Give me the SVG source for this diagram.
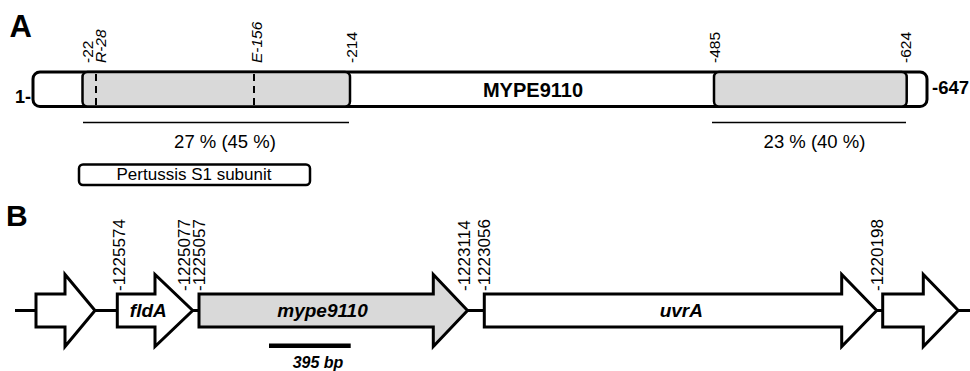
<svg xmlns="http://www.w3.org/2000/svg" width="970" height="371" viewBox="0 0 970 371">
<style>
text{font-family:"Liberation Sans",Arial,Helvetica,sans-serif;fill:#000}
.panel{font-size:31px;font-weight:bold}
.pos{font-size:15.5px}
.posi{font-size:15.5px;font-style:italic}
.gpos{font-size:17px}
.box{stroke:#000;stroke-width:3;fill:#fff}
.dom{stroke:#000;stroke-width:2.5;fill:#d9d9d9}
.gene{stroke:#000;stroke-width:3;fill:#fff;stroke-linejoin:miter}
.glab{font-size:19px;font-weight:bold;font-style:italic;text-anchor:middle}
.mid{text-anchor:middle}
.rule{stroke:#000;stroke-width:1.5}
.dash{stroke:#000;stroke-width:2;stroke-dasharray:7 5}
</style>

<!-- Panel A -->
<text class="panel" x="9.5" y="36.5">A</text>
<g id="protein">
  <rect class="box" x="33" y="72" width="894" height="34.5" rx="7"/>
  <text x="533" y="96.5" class="mid" style="font-size:20px;font-weight:bold">MYPE9110</text>
  <text x="15" y="102.5" style="font-size:18px;font-weight:bold">1-</text>
  <text x="932" y="94" style="font-size:18.5px;font-weight:bold">-647</text>
</g>
<g id="domain1">
  <rect class="dom" x="82.5" y="72" width="267.5" height="34.5" rx="5"/>
  <line class="dash" x1="96" y1="74" x2="96" y2="105"/>
  <line class="dash" x1="254" y1="74" x2="254" y2="105"/>
  <text class="pos" transform="translate(93,63) rotate(-90)">-22</text>
  <text class="posi" transform="translate(106,63) rotate(-90)">R-28</text>
  <text class="posi" transform="translate(261.5,63) rotate(-90)">E-156</text>
  <text class="pos" transform="translate(356.5,63) rotate(-90)">-214</text>
  <line class="rule" x1="83" y1="122.5" x2="349" y2="122.5"/>
  <text x="225" y="148.3" class="mid" style="font-size:18.5px">27 % (45 %)</text>
</g>
<g id="domain2">
  <rect class="dom" x="714" y="72" width="192.7" height="34.5" rx="5"/>
  <text class="pos" transform="translate(720,63) rotate(-90)">-485</text>
  <text class="pos" transform="translate(911,63) rotate(-90)">-624</text>
  <line class="rule" x1="712" y1="122.5" x2="906" y2="122.5"/>
  <text x="814.5" y="148.3" class="mid" style="font-size:18.5px">23 % (40 %)</text>
</g>
<g id="pertussis">
  <rect class="box" x="79" y="164.5" width="231" height="20.5" rx="4" style="stroke-width:2.5"/>
  <text x="194" y="180" class="mid" style="font-size:17px">Pertussis S1 subunit</text>
</g>

<!-- Panel B -->
<text class="panel" x="6" y="226" style="font-size:30px">B</text>
<g id="connectors">
  <line x1="15" y1="310.5" x2="970" y2="310.5" stroke="#000" stroke-width="3"/>
</g>
<g id="gene1">
  <polygon class="gene" points="36,294 65,294 65,274.5 95,310.5 65,346.5 65,327 36,327"/>
</g>
<g id="fldA">
  <polygon class="gene" points="117.3,294 155,294 155,274.5 192.7,310.5 155,346.5 155,327 117.3,327"/>
  <text class="glab" x="148.3" y="317">fldA</text>
</g>
<g id="mype9110">
  <polygon class="gene" style="fill:#d9d9d9" points="199,294 433.3,294 433.3,274.5 467.5,310.5 433.3,346.5 433.3,327 199,327"/>
  <text class="glab" x="322.5" y="317">mype9110</text>
</g>
<g id="uvrA">
  <polygon class="gene" points="484.3,294 841.7,294 841.7,274.5 876.7,310.5 841.7,346.5 841.7,327 484.3,327"/>
  <text class="glab" x="681.3" y="317">uvrA</text>
</g>
<g id="gene5">
  <polygon class="gene" points="882.7,294 923.3,294 923.3,274.5 958.3,310.5 923.3,346.5 923.3,327 882.7,327"/>
</g>
<g id="coords">
  <text class="gpos" transform="translate(124.5,291) rotate(-90)">-1225574</text>
  <text class="gpos" transform="translate(189.5,291) rotate(-90)">-1225077</text>
  <text class="gpos" transform="translate(204.5,291) rotate(-90)">-1225057</text>
  <text class="gpos" transform="translate(470,291) rotate(-90)">-1223114</text>
  <text class="gpos" transform="translate(490,291) rotate(-90)">-1223056</text>
  <text class="gpos" transform="translate(883.3,291) rotate(-90)">-1220198</text>
</g>
<g id="scalebar">
  <line x1="269" y1="345.7" x2="350.7" y2="345.7" stroke="#000" stroke-width="4.5"/>
  <text x="318" y="368.3" class="mid" style="font-size:16px;font-weight:bold;font-style:italic">395 bp</text>
</g>
</svg>
